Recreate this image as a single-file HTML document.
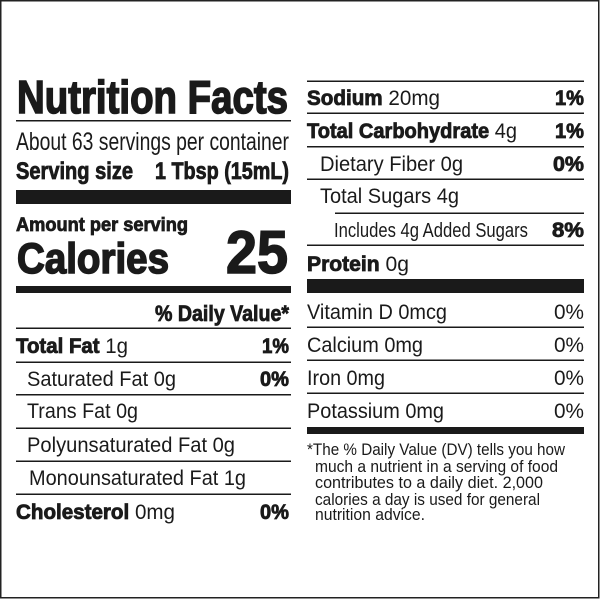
<!DOCTYPE html>
<html><head><meta charset="utf-8"><style>
html,body{margin:0;padding:0;background:#fff}
svg{display:block}
text{font-family:"Liberation Sans",Arial,sans-serif;fill:#1a1a1a}
.b{font-weight:bold;stroke:#1a1a1a;stroke-width:0.8}
.h{stroke-width:1.6}
</style></head><body>
<svg width="600" height="600" viewBox="0 0 600 600" xmlns="http://www.w3.org/2000/svg">
<rect x="0.75" y="0.75" width="598" height="597" fill="#fff" stroke="#222" stroke-width="1.5"/>
<g fill="#1a1a1a">
<rect x="16" y="120" width="275" height="1.5"/>
<rect x="16" y="190" width="275" height="14"/>
<rect x="16" y="286" width="275" height="7"/>
<rect x="16" y="327.5" width="275" height="1.5"/>
<rect x="16" y="361.5" width="275" height="1.5"/>
<rect x="16" y="394" width="275" height="1.5"/>
<rect x="16" y="427.5" width="275" height="1.5"/>
<rect x="16" y="460.5" width="275" height="1.5"/>
<rect x="16" y="493.5" width="275" height="1.5"/>
<rect x="307" y="80.5" width="277" height="1.5"/>
<rect x="307" y="112.5" width="277" height="1.5"/>
<rect x="307" y="146" width="277" height="1.5"/>
<rect x="307" y="178.5" width="277" height="1.5"/>
<rect x="335" y="212.5" width="249" height="1.5"/>
<rect x="307" y="244.5" width="277" height="1.5"/>
<rect x="307" y="279" width="277" height="14"/>
<rect x="307" y="326.5" width="277" height="1.5"/>
<rect x="307" y="359.5" width="277" height="1.5"/>
<rect x="307" y="392.5" width="277" height="1.5"/>
<rect x="307" y="427" width="277" height="7"/>
</g>
<text class="b h" x="17" y="113" font-size="46" textLength="271" lengthAdjust="spacingAndGlyphs">Nutrition Facts</text>
<text x="16" y="150" font-size="25" textLength="273" lengthAdjust="spacingAndGlyphs">About 63 servings per container</text>
<text class="b" x="16" y="179" font-size="24" textLength="117" lengthAdjust="spacingAndGlyphs">Serving size</text>
<text class="b" x="155" y="179" font-size="24" textLength="134" lengthAdjust="spacingAndGlyphs">1 Tbsp (15mL)</text>
<text class="b" x="16" y="231" font-size="19.5" textLength="172" lengthAdjust="spacingAndGlyphs">Amount per serving</text>
<text class="b h" x="17" y="273" font-size="43" textLength="152" lengthAdjust="spacingAndGlyphs">Calories</text>
<text class="b h" x="226" y="273" font-size="60" textLength="62" lengthAdjust="spacingAndGlyphs">25</text>
<text class="b" x="155" y="321" font-size="22" textLength="134" lengthAdjust="spacingAndGlyphs">% Daily Value*</text>

<text x="16" y="353" font-size="21" textLength="112" lengthAdjust="spacingAndGlyphs"><tspan class="b">Total Fat</tspan> 1g</text>
<text class="b" x="262" y="353" font-size="21" textLength="27" lengthAdjust="spacingAndGlyphs">1%</text>
<text x="27" y="386" font-size="21" textLength="149" lengthAdjust="spacingAndGlyphs">Saturated Fat 0g</text>
<text class="b" x="260" y="386" font-size="21" textLength="29" lengthAdjust="spacingAndGlyphs">0%</text>
<text x="27" y="418" font-size="21" textLength="111" lengthAdjust="spacingAndGlyphs">Trans Fat 0g</text>
<text x="27" y="452" font-size="21" textLength="208" lengthAdjust="spacingAndGlyphs">Polyunsaturated Fat 0g</text>
<text x="29" y="485" font-size="21" textLength="217" lengthAdjust="spacingAndGlyphs">Monounsaturated Fat 1g</text>
<text x="16" y="519" font-size="21" textLength="159" lengthAdjust="spacingAndGlyphs"><tspan class="b">Cholesterol</tspan> 0mg</text>
<text class="b" x="260" y="519" font-size="21" textLength="29" lengthAdjust="spacingAndGlyphs">0%</text>

<text x="307" y="105" font-size="21" textLength="133" lengthAdjust="spacingAndGlyphs"><tspan class="b">Sodium</tspan> 20mg</text>
<text class="b" x="555" y="105" font-size="21" textLength="29" lengthAdjust="spacingAndGlyphs">1%</text>
<text x="307" y="138" font-size="21" textLength="210" lengthAdjust="spacingAndGlyphs"><tspan class="b">Total Carbohydrate</tspan> 4g</text>
<text class="b" x="555" y="138" font-size="21" textLength="29" lengthAdjust="spacingAndGlyphs">1%</text>
<text x="320" y="171" font-size="21" textLength="143" lengthAdjust="spacingAndGlyphs">Dietary Fiber 0g</text>
<text class="b" x="553" y="171" font-size="21" textLength="31" lengthAdjust="spacingAndGlyphs">0%</text>
<text x="320" y="203" font-size="21" textLength="139" lengthAdjust="spacingAndGlyphs">Total Sugars 4g</text>
<text x="334" y="237" font-size="20" textLength="194" lengthAdjust="spacingAndGlyphs">Includes 4g Added Sugars</text>
<text class="b" x="552" y="237" font-size="21" textLength="32" lengthAdjust="spacingAndGlyphs">8%</text>
<text x="307" y="271" font-size="21" textLength="102" lengthAdjust="spacingAndGlyphs"><tspan class="b">Protein</tspan> 0g</text>
<text x="307" y="319" font-size="21" textLength="140" lengthAdjust="spacingAndGlyphs">Vitamin D 0mcg</text>
<text x="554" y="319" font-size="21" textLength="30" lengthAdjust="spacingAndGlyphs">0%</text>
<text x="307" y="352" font-size="21" textLength="116" lengthAdjust="spacingAndGlyphs">Calcium 0mg</text>
<text x="554" y="352" font-size="21" textLength="30" lengthAdjust="spacingAndGlyphs">0%</text>
<text x="307" y="385" font-size="21" textLength="78" lengthAdjust="spacingAndGlyphs">Iron 0mg</text>
<text x="554" y="385" font-size="21" textLength="30" lengthAdjust="spacingAndGlyphs">0%</text>
<text x="307" y="418" font-size="21" textLength="137" lengthAdjust="spacingAndGlyphs">Potassium 0mg</text>
<text x="554" y="418" font-size="21" textLength="30" lengthAdjust="spacingAndGlyphs">0%</text>

<text x="307" y="455" font-size="16.5" textLength="258" lengthAdjust="spacingAndGlyphs">*The % Daily Value (DV) tells you how</text>
<text x="315" y="472" font-size="16.5" textLength="243" lengthAdjust="spacingAndGlyphs">much a nutrient in a serving of food</text>
<text x="315" y="488" font-size="16.5" textLength="228" lengthAdjust="spacingAndGlyphs">contributes to a daily diet. 2,000</text>
<text x="315" y="505" font-size="16.5" textLength="225" lengthAdjust="spacingAndGlyphs">calories a day is used for general</text>
<text x="315" y="520" font-size="16.5" textLength="110" lengthAdjust="spacingAndGlyphs">nutrition advice.</text>
</svg>
</body></html>
